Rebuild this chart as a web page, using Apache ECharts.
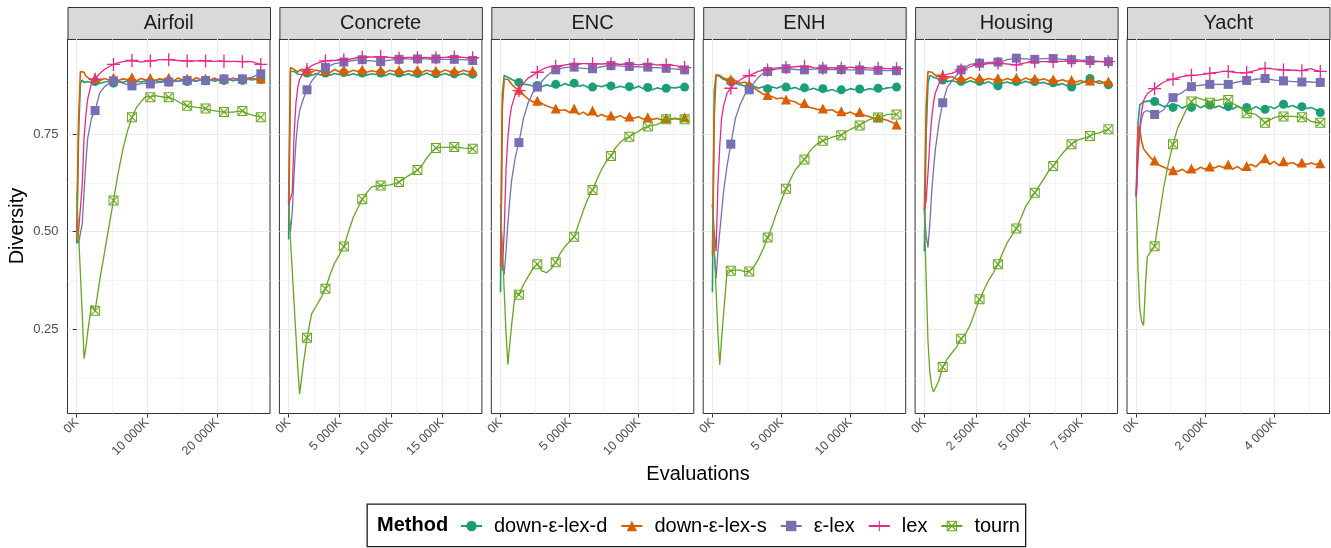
<!DOCTYPE html>
<html>
<head>
<meta charset="utf-8">
<script src="https://cdn.jsdelivr.net/npm/echarts@6/dist/echarts.min.js"></script>
<style>
  html, body { margin: 0; padding: 0; background: #fff; }
  #main { width: 1331px; height: 548px; }
</style>
</head>
<body>
<div id="main"></div>
<script>
// ---- data ----
var panelNames = ['Airfoil', 'Concrete', 'ENC', 'ENH', 'Housing', 'Yacht'];
var methods = ['down-ε-lex-d', 'down-ε-lex-s', 'ε-lex', 'lex', 'tourn'];
// last evaluation of each run (thousands)
var panelMaxK = [26200, 18020, 13350, 13350, 8800, 5330];
// sample points, percent of the run
var samplePct = [0, 1, 2, 3, 4, 5, 6, 8, 10, 12.5, 15, 17.5, 20, 22.5, 25, 27.5, 30, 32.5, 35, 37.5, 40,
  42.5, 45, 47.5, 50, 52.5, 55, 57.5, 60, 62.5, 65, 67.5, 70, 72.5, 75, 77.5, 80, 82.5, 85, 87.5, 90,
  92.5, 95, 97.5, 100];
var markerPct = [10, 20, 30, 40, 50, 60, 70, 80, 90, 100];
// tick labels
var xTicks = [[0, 10000, 20000], [0, 5000, 10000, 15000], [0, 5000, 10000], [0, 5000, 10000], [0, 2500, 5000, 7500], [0, 2000, 4000]];
var xMinor = [[5000, 15000, 25000], [2500, 7500, 12500, 17500], [2500, 7500, 12500], [2500, 7500, 12500], [1250, 3750, 6250, 8750], [1000, 3000, 5000]];
var yTicks = [0.25, 0.5, 0.75];
var yMinor = [0.125, 0.375, 0.625, 0.875];

var airfoilDownD = [0.47,0.75,0.88,0.888,0.882,0.879,0.884,0.881,0.884,0.879,0.883,0.885,0.88,0.884,0.882,0.886,0.881,0.885,0.883,0.886,0.882,0.887,0.884,0.886,0.883,0.887,0.885,0.888,0.884,0.887,0.885,0.889,0.886,0.888,0.885,0.889,0.887,0.89,0.886,0.889,0.887,0.891,0.888,0.89,0.889];
var airfoilDownS = [0.48,0.78,0.91,0.915,0.908,0.898,0.893,0.888,0.893,0.886,0.892,0.888,0.894,0.887,0.891,0.889,0.895,0.886,0.892,0.888,0.893,0.887,0.891,0.889,0.894,0.886,0.893,0.888,0.892,0.887,0.894,0.889,0.891,0.888,0.893,0.887,0.892,0.889,0.893,0.888,0.892,0.889,0.893,0.89,0.892];
var airfoilEpsLex = [0.48,0.47,0.47,0.52,0.6,0.68,0.74,0.79,0.81,0.855,0.87,0.88,0.886,0.884,0.88,0.876,0.873,0.876,0.879,0.88,0.878,0.88,0.882,0.883,0.883,0.884,0.885,0.886,0.887,0.887,0.887,0.887,0.887,0.888,0.889,0.89,0.891,0.891,0.891,0.891,0.891,0.893,0.895,0.9,0.904];
var airfoilLex = [0.52,0.5,0.5,0.62,0.74,0.8,0.84,0.88,0.89,0.905,0.915,0.922,0.928,0.932,0.935,0.937,0.938,0.936,0.934,0.936,0.937,0.938,0.94,0.94,0.94,0.939,0.938,0.937,0.937,0.936,0.937,0.938,0.937,0.936,0.936,0.937,0.936,0.935,0.936,0.936,0.935,0.936,0.935,0.931,0.928];
var airfoilTourn = [0.6,0.496,0.394,0.29,0.175,0.205,0.244,0.312,0.298,0.376,0.444,0.513,0.58,0.65,0.709,0.756,0.793,0.818,0.833,0.846,0.844,0.848,0.846,0.844,0.844,0.84,0.833,0.826,0.822,0.82,0.818,0.817,0.815,0.812,0.809,0.807,0.806,0.806,0.806,0.808,0.809,0.803,0.799,0.796,0.793];

var concreteDownD = [0.48,0.91,0.915,0.91,0.906,0.903,0.908,0.902,0.906,0.9,0.905,0.901,0.906,0.9,0.905,0.902,0.907,0.9,0.904,0.901,0.906,0.9,0.904,0.902,0.906,0.899,0.905,0.901,0.906,0.9,0.904,0.899,0.905,0.901,0.906,0.9,0.904,0.901,0.905,0.9,0.904,0.901,0.905,0.9,0.903];
var concreteDownS = [0.57,0.92,0.922,0.915,0.912,0.908,0.914,0.909,0.913,0.908,0.914,0.91,0.913,0.907,0.915,0.909,0.914,0.908,0.913,0.91,0.915,0.908,0.912,0.909,0.914,0.907,0.913,0.91,0.914,0.908,0.912,0.909,0.914,0.908,0.913,0.91,0.912,0.908,0.914,0.909,0.912,0.908,0.913,0.909,0.912];
var concreteEpsLex = [0.57,0.5,0.55,0.65,0.73,0.78,0.81,0.84,0.863,0.885,0.9,0.912,0.92,0.925,0.93,0.932,0.934,0.936,0.938,0.939,0.94,0.938,0.937,0.936,0.935,0.937,0.939,0.94,0.941,0.942,0.942,0.941,0.942,0.942,0.942,0.941,0.942,0.941,0.941,0.941,0.941,0.94,0.94,0.939,0.938];
var concreteLex = [0.57,0.57,0.6,0.75,0.83,0.87,0.89,0.905,0.915,0.925,0.93,0.934,0.937,0.938,0.938,0.939,0.94,0.941,0.943,0.945,0.946,0.947,0.947,0.947,0.948,0.947,0.946,0.945,0.944,0.945,0.946,0.946,0.945,0.945,0.946,0.945,0.945,0.946,0.946,0.947,0.947,0.946,0.946,0.945,0.945];
var concreteTourn = [0.568,0.48,0.4,0.315,0.234,0.15,0.085,0.161,0.229,0.29,0.31,0.33,0.354,0.39,0.42,0.44,0.462,0.5,0.535,0.56,0.583,0.6,0.614,0.617,0.618,0.618,0.62,0.623,0.627,0.635,0.643,0.65,0.658,0.67,0.688,0.703,0.714,0.716,0.716,0.716,0.717,0.716,0.714,0.713,0.712];

var encDownD = [0.345,0.85,0.9,0.9,0.895,0.893,0.89,0.885,0.882,0.878,0.876,0.873,0.874,0.871,0.876,0.872,0.877,0.873,0.879,0.874,0.88,0.872,0.875,0.869,0.87,0.874,0.871,0.875,0.873,0.868,0.872,0.869,0.871,0.867,0.872,0.866,0.869,0.863,0.868,0.865,0.867,0.869,0.868,0.87,0.87];
var encDownS = [0.41,0.82,0.89,0.893,0.89,0.885,0.878,0.868,0.863,0.85,0.84,0.832,0.835,0.828,0.822,0.818,0.815,0.81,0.812,0.805,0.815,0.8,0.806,0.798,0.81,0.795,0.8,0.794,0.797,0.792,0.797,0.79,0.795,0.79,0.794,0.788,0.793,0.787,0.79,0.786,0.791,0.788,0.79,0.787,0.793];
var encEpsLex = [0.57,0.42,0.39,0.45,0.52,0.58,0.63,0.69,0.728,0.79,0.83,0.855,0.87,0.885,0.898,0.908,0.914,0.917,0.92,0.921,0.921,0.919,0.918,0.917,0.917,0.92,0.922,0.924,0.925,0.924,0.924,0.923,0.923,0.922,0.922,0.921,0.921,0.92,0.92,0.919,0.918,0.917,0.916,0.915,0.914];
var encLex = [0.57,0.4,0.5,0.66,0.74,0.79,0.82,0.85,0.861,0.88,0.893,0.9,0.908,0.915,0.92,0.923,0.923,0.925,0.927,0.928,0.928,0.93,0.93,0.93,0.93,0.929,0.929,0.93,0.93,0.929,0.928,0.929,0.928,0.928,0.927,0.928,0.928,0.928,0.927,0.927,0.927,0.926,0.925,0.923,0.92];
var encTourn = [0.57,0.46,0.35,0.24,0.16,0.211,0.259,0.343,0.339,0.365,0.385,0.405,0.417,0.4,0.395,0.405,0.422,0.445,0.462,0.475,0.487,0.52,0.555,0.585,0.607,0.635,0.66,0.68,0.694,0.715,0.728,0.738,0.743,0.75,0.757,0.765,0.769,0.772,0.774,0.78,0.788,0.789,0.789,0.788,0.788];

var enhDownD = [0.345,0.86,0.902,0.9,0.897,0.893,0.89,0.887,0.884,0.88,0.876,0.873,0.87,0.872,0.867,0.871,0.866,0.87,0.867,0.872,0.87,0.866,0.869,0.864,0.868,0.863,0.867,0.862,0.866,0.86,0.864,0.859,0.863,0.861,0.866,0.863,0.865,0.862,0.866,0.864,0.867,0.865,0.868,0.869,0.87];
var enhDownS = [0.44,0.8,0.9,0.905,0.9,0.895,0.893,0.89,0.89,0.887,0.88,0.883,0.876,0.868,0.86,0.852,0.85,0.845,0.84,0.842,0.838,0.835,0.832,0.825,0.829,0.818,0.816,0.812,0.815,0.81,0.812,0.805,0.808,0.802,0.806,0.8,0.806,0.798,0.795,0.79,0.793,0.788,0.785,0.78,0.774];
var enhEpsLex = [0.57,0.45,0.38,0.45,0.5,0.55,0.6,0.67,0.724,0.79,0.825,0.85,0.863,0.88,0.895,0.905,0.91,0.914,0.916,0.917,0.917,0.916,0.915,0.914,0.914,0.915,0.916,0.916,0.916,0.915,0.915,0.915,0.915,0.914,0.914,0.914,0.914,0.914,0.914,0.913,0.913,0.913,0.912,0.912,0.912];
var enhLex = [0.57,0.5,0.45,0.62,0.72,0.79,0.82,0.855,0.867,0.88,0.888,0.895,0.899,0.905,0.91,0.913,0.914,0.917,0.919,0.92,0.92,0.921,0.922,0.923,0.923,0.922,0.92,0.919,0.918,0.919,0.92,0.919,0.918,0.92,0.921,0.92,0.919,0.92,0.919,0.918,0.918,0.918,0.917,0.917,0.917];
var enhTourn = [0.57,0.46,0.35,0.24,0.16,0.226,0.286,0.4,0.4,0.402,0.402,0.398,0.398,0.41,0.43,0.455,0.485,0.515,0.55,0.58,0.61,0.635,0.658,0.672,0.685,0.703,0.717,0.727,0.733,0.737,0.742,0.745,0.747,0.755,0.762,0.768,0.772,0.78,0.786,0.79,0.792,0.795,0.8,0.8,0.8];

var housingDownD = [0.45,0.75,0.88,0.9,0.9,0.895,0.892,0.89,0.888,0.884,0.887,0.883,0.885,0.881,0.886,0.882,0.885,0.879,0.884,0.877,0.873,0.88,0.883,0.879,0.884,0.88,0.885,0.881,0.884,0.88,0.882,0.877,0.881,0.875,0.879,0.873,0.87,0.876,0.88,0.885,0.892,0.884,0.879,0.881,0.876];
var housingDownS = [0.555,0.82,0.91,0.912,0.908,0.905,0.9,0.9,0.9,0.893,0.897,0.89,0.894,0.888,0.895,0.889,0.894,0.888,0.892,0.889,0.893,0.887,0.892,0.888,0.894,0.887,0.893,0.889,0.892,0.888,0.891,0.886,0.89,0.885,0.889,0.884,0.888,0.883,0.887,0.882,0.887,0.883,0.886,0.882,0.884];
var housingEpsLex = [0.555,0.49,0.46,0.52,0.6,0.66,0.71,0.78,0.83,0.87,0.885,0.9,0.914,0.922,0.928,0.93,0.931,0.932,0.933,0.934,0.934,0.936,0.94,0.942,0.944,0.943,0.942,0.941,0.941,0.942,0.943,0.943,0.943,0.942,0.941,0.941,0.94,0.94,0.939,0.938,0.938,0.937,0.936,0.935,0.935];
var housingLex = [0.555,0.58,0.65,0.73,0.79,0.83,0.855,0.88,0.897,0.903,0.905,0.91,0.914,0.918,0.922,0.926,0.928,0.929,0.93,0.93,0.931,0.93,0.929,0.928,0.927,0.93,0.932,0.934,0.935,0.935,0.935,0.935,0.935,0.936,0.936,0.937,0.937,0.936,0.936,0.935,0.935,0.935,0.935,0.935,0.935];
var housingTourn = [0.555,0.38,0.22,0.14,0.105,0.09,0.085,0.12,0.154,0.175,0.19,0.205,0.226,0.24,0.262,0.295,0.327,0.352,0.376,0.395,0.417,0.445,0.472,0.49,0.508,0.535,0.564,0.582,0.6,0.618,0.636,0.655,0.668,0.685,0.7,0.713,0.724,0.733,0.737,0.74,0.745,0.75,0.753,0.758,0.762];

var yachtDownD = [0.59,0.78,0.825,0.83,0.832,0.833,0.834,0.834,0.833,0.826,0.82,0.822,0.818,0.824,0.816,0.822,0.818,0.825,0.817,0.823,0.824,0.817,0.822,0.816,0.82,0.814,0.821,0.815,0.818,0.813,0.82,0.814,0.813,0.82,0.815,0.822,0.826,0.819,0.823,0.817,0.82,0.815,0.818,0.812,0.805];
var yachtDownS = [0.59,0.77,0.76,0.73,0.712,0.706,0.7,0.688,0.682,0.67,0.665,0.66,0.657,0.654,0.66,0.652,0.662,0.658,0.665,0.66,0.667,0.663,0.668,0.664,0.672,0.66,0.667,0.658,0.668,0.672,0.666,0.678,0.688,0.672,0.68,0.67,0.68,0.674,0.677,0.67,0.677,0.672,0.676,0.672,0.675];
var yachtEpsLex = [0.59,0.69,0.76,0.79,0.805,0.81,0.81,0.805,0.8,0.805,0.812,0.83,0.843,0.85,0.856,0.865,0.871,0.873,0.875,0.876,0.877,0.877,0.877,0.877,0.877,0.88,0.883,0.885,0.887,0.888,0.89,0.891,0.892,0.89,0.888,0.887,0.886,0.885,0.884,0.884,0.883,0.884,0.883,0.882,0.882];
var yachtLex = [0.59,0.7,0.77,0.81,0.835,0.845,0.853,0.86,0.866,0.875,0.883,0.888,0.89,0.894,0.897,0.899,0.9,0.9,0.902,0.903,0.905,0.907,0.908,0.91,0.91,0.908,0.907,0.906,0.907,0.91,0.913,0.916,0.918,0.917,0.916,0.915,0.914,0.913,0.913,0.913,0.912,0.915,0.917,0.913,0.91];
var yachtTourn = [0.59,0.4,0.3,0.27,0.26,0.36,0.436,0.45,0.463,0.54,0.615,0.675,0.724,0.765,0.79,0.815,0.833,0.844,0.84,0.836,0.83,0.836,0.837,0.84,0.837,0.828,0.822,0.815,0.803,0.803,0.8,0.79,0.779,0.785,0.792,0.795,0.795,0.795,0.795,0.794,0.793,0.79,0.782,0.78,0.779];

var panelData = [
  [airfoilDownD, airfoilDownS, airfoilEpsLex, airfoilLex, airfoilTourn],
  [concreteDownD, concreteDownS, concreteEpsLex, concreteLex, concreteTourn],
  [encDownD, encDownS, encEpsLex, encLex, encTourn],
  [enhDownD, enhDownS, enhEpsLex, enhLex, enhTourn],
  [housingDownD, housingDownS, housingEpsLex, housingLex, housingTourn],
  [yachtDownD, yachtDownS, yachtEpsLex, yachtLex, yachtTourn]
];

// ---- styles ----
var FONT = "'Liberation Sans', Arial, sans-serif";
var colors = ['#1B9E77', '#D95F02', '#7570B3', '#E7298A', '#66A61E'];
var plusPath = 'path://M0,5.4H12V6.6H0Z M5.4,0H6.6V12H5.4Z';
var boxXPath = 'path://M0,0H10V10H0Z M1,1V9H9V1Z M1,1.8L1.8,1L9,8.2L8.2,9Z M9,1.8L1.8,9L1,8.2L8.2,1Z';
var symbols = ['circle', 'triangle', 'rect', plusPath, boxXPath];
var symbolSizes = [9, 10, 9, 13, 10];
var lineWidths = [1.6, 1.6, 1.3, 1.3, 1.3];

var gridLeft = 67.5, gridStep = 211.9, gridW = 202.5, gridTop = 39, gridH = 374.5;
var yMin = 0.035, yMax = 0.993;

function fmtK(v) {
  return String(Math.round(v)).replace(/\B(?=(\d{3})+(?!\d))/g, ' ') + 'K';
}

var grids = [], xAxes = [], yAxes = [], series = [], graphics = [];

panelNames.forEach(function (name, p) {
  var left = gridLeft + gridStep * p;
  grids.push({
    left: left, top: gridTop, width: gridW, height: gridH,
    show: true, borderColor: '#333333', borderWidth: 1, backgroundColor: '#fff',
    outerBoundsMode: 'none', containLabel: false
  });
  var xmin = -0.05 * panelMaxK[p], xmax = 1.05 * panelMaxK[p];
  // major x
  xAxes.push({
    type: 'value', gridIndex: p, min: xmin, max: xmax, position: 'bottom',
    axisLine: { show: false },
    axisTick: { show: true, length: 4, lineStyle: { color: '#333333' }, customValues: xTicks[p] },
    axisLabel: { customValues: xTicks[p], rotate: 45, formatter: fmtK, color: '#4D4D4D', fontSize: 12.5, fontFamily: FONT, margin: 7 },
    splitLine: { show: true, lineStyle: { color: '#EBEBEB', width: 1.1 } }
  });
  // minor x
  xAxes.push({
    type: 'value', gridIndex: p, min: xmin, max: xmax, position: 'top',
    axisLine: { show: false },
    axisTick: { show: false, customValues: xMinor[p] },
    axisLabel: { show: false, customValues: xMinor[p] },
    splitLine: { show: true, lineStyle: { color: '#EFEFEF', width: 0.6 } }
  });
  yAxes.push({
    type: 'value', gridIndex: p, min: yMin, max: yMax, position: 'left',
    axisLine: { show: false },
    axisTick: { show: p === 0, length: 4, lineStyle: { color: '#333333' }, customValues: yTicks },
    axisLabel: { show: p === 0, customValues: yTicks, formatter: function (v) { return v.toFixed(2); }, color: '#4D4D4D', fontSize: 13, fontFamily: FONT, margin: 9 },
    splitLine: { show: true, lineStyle: { color: '#EBEBEB', width: 1.1 } }
  });
  yAxes.push({
    type: 'value', gridIndex: p, min: yMin, max: yMax, position: 'right',
    axisLine: { show: false },
    axisTick: { show: false, customValues: yMinor },
    axisLabel: { show: false, customValues: yMinor },
    splitLine: { show: true, lineStyle: { color: '#EFEFEF', width: 0.6 } }
  });

  methods.forEach(function (m, k) {
    var ys = panelData[p][k];
    var data = samplePct.map(function (pct, i) {
      var item = { value: [pct / 100 * panelMaxK[p], ys[i]] };
      if (markerPct.indexOf(pct) < 0) item.symbol = 'none';
      return item;
    });
    series.push({
      name: m, type: 'line', xAxisIndex: 2 * p, yAxisIndex: 2 * p,
      data: data,
      symbol: symbols[k], symbolSize: symbolSizes[k],
      showSymbol: true, showAllSymbol: true,
      lineStyle: { color: colors[k], width: lineWidths[k] },
      itemStyle: { color: colors[k] },
      emphasis: { disabled: true },
      z: 2 + k
    });
  });

  // facet strip
  graphics.push({
    type: 'rect', left: left, top: 7,
    shape: { width: gridW, height: 32 },
    style: { fill: '#D9D9D9', stroke: '#333333', lineWidth: 1 }
  });
  graphics.push({
    type: 'text', x: left + gridW / 2, y: 23,
    style: { text: name, fill: '#1A1A1A', font: '20px ' + FONT, textAlign: 'center', textVerticalAlign: 'middle' }
  });
});

// axis titles
graphics.push({
  type: 'text', x: 17, y: 226, rotation: Math.PI / 2,
  style: { text: 'Diversity', fill: '#000', font: '20px ' + FONT, textAlign: 'center', textVerticalAlign: 'middle' }
});
graphics.push({
  type: 'text', x: 698, y: 474,
  style: { text: 'Evaluations', fill: '#000', font: '20px ' + FONT, textAlign: 'center', textVerticalAlign: 'middle' }
});
// legend box and title
graphics.push({
  type: 'rect', left: 366.5, top: 503.5,
  shape: { width: 658.5, height: 42.5 },
  style: { fill: '#fff', stroke: '#1A1A1A', lineWidth: 1.3 },
  z: -1
});
graphics.push({
  type: 'text', x: 377, y: 525,
  style: { text: 'Method', fill: '#000', font: 'bold 20px ' + FONT, textAlign: 'left', textVerticalAlign: 'middle' }
});

var option = {
  animation: false,
  backgroundColor: '#fff',
  textStyle: { fontFamily: FONT },
  grid: grids,
  xAxis: xAxes,
  yAxis: yAxes,
  legend: {
    data: methods, left: 460, top: 516, orient: 'horizontal', padding: 0,
    itemWidth: 21, itemHeight: 13, itemGap: 13, selectedMode: false,
    textStyle: { fontSize: 20, color: '#000', fontFamily: FONT, padding: [0, 0, 0, 7] }
  },
  graphic: graphics,
  series: series
};

var myChart = echarts.init(document.getElementById('main'));
myChart.setOption(option);
window.addEventListener('resize', function () {
  myChart.resize();
});
</script>
</body>
</html>
